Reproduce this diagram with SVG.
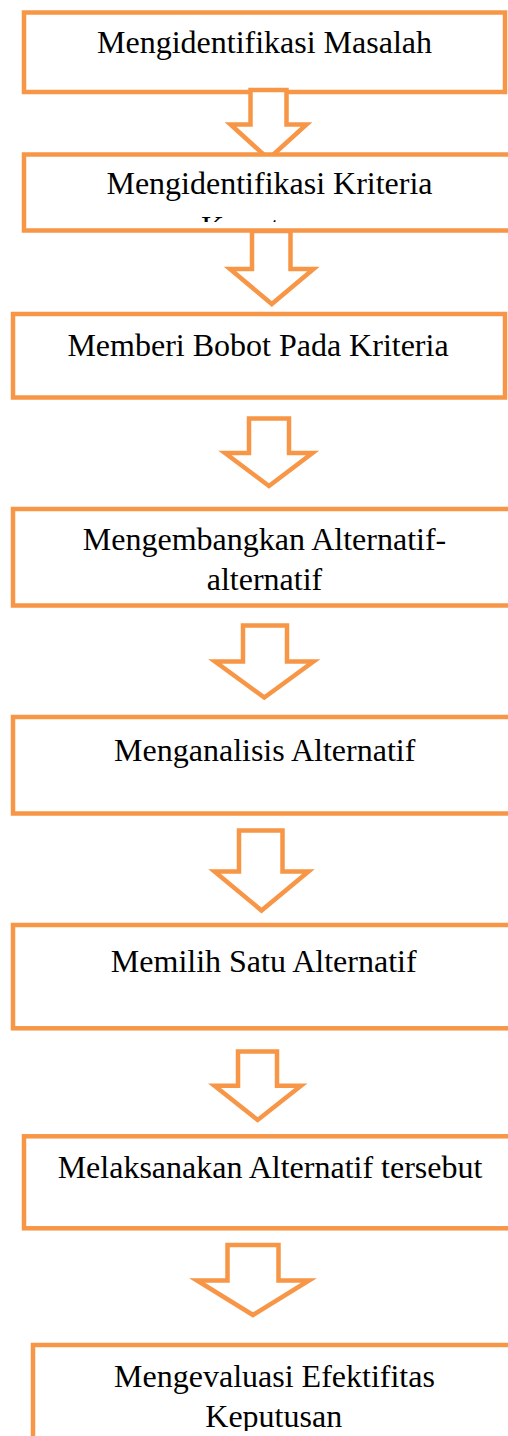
<svg xmlns="http://www.w3.org/2000/svg" width="508" height="1436" viewBox="0 0 508 1436">
<style>
.box{fill:#fff;stroke:#F79646;stroke-width:4.5;stroke-linejoin:miter}
.arr{fill:#fff;stroke:#F79646;stroke-width:4.5;stroke-linejoin:miter}
.t{font-family:'Liberation Serif','Times New Roman',serif;font-size:32px;fill:#000;text-anchor:middle}
</style>
<defs>
<clipPath id="c2"><rect x="0" y="150" width="508" height="72"/></clipPath>
<clipPath id="c8"><rect x="0" y="1340" width="508" height="91"/></clipPath>
</defs>
<rect width="508" height="1436" fill="#fff"/>
<g id="n1">
<rect class="box" x="24" y="12.5" width="481" height="79.5"/>
<text class="t" x="264.5" y="53">Mengidentifikasi Masalah</text>
</g>
<g id="connectors">
<polygon class="arr" points="250.5,90 286.5,90 286.5,124.5 306.5,124.5 268.5,159 230.5,124.5 250.5,124.5"/>
<polygon class="arr" points="252,231 290.5,231 290.5,269 313.5,269 271.8,304 230,269 252,269"/>
<polygon class="arr" points="249,418.5 289,418.5 289,453 312.5,453 269,486 225,453 249,453"/>
<polygon class="arr" points="243,625.5 287,625.5 287,661.5 313.5,661.5 264.3,697.5 215,661.5 243,661.5"/>
<polygon class="arr" points="239,830.5 282.5,830.5 282.5,871.5 308.5,871.5 261.5,910.5 214.5,871.5 239,871.5"/>
<polygon class="arr" points="238,1051.5 277,1051.5 277,1085.7 301,1085.7 257.7,1120 214.5,1085.7 238,1085.7"/>
<polygon class="arr" points="227.5,1245 278.5,1245 278.5,1280.5 309,1280.5 253,1315 197,1280.5 227.5,1280.5"/>
</g>
<g id="n2">
<rect class="box" x="24" y="154.5" width="492" height="76"/>
<g clip-path="url(#c2)">
<text class="t" x="269.5" y="194">Mengidentifikasi Kriteria</text>
<text class="t" x="269.5" y="238">Keputusan</text>
</g>
</g>
<g id="n3">
<rect class="box" x="13" y="314" width="492" height="83.5"/>
<text class="t" x="258" y="356">Memberi Bobot Pada Kriteria</text>
</g>
<g id="n4">
<rect class="box" x="13" y="509" width="503" height="96.5"/>
<text class="t" x="264.5" y="550">Mengembangkan Alternatif-</text>
<text class="t" x="264.5" y="590">alternatif</text>
</g>
<g id="n5">
<rect class="box" x="13" y="717" width="503" height="96.5"/>
<text class="t" x="264.7" y="761">Menganalisis Alternatif</text>
</g>
<g id="n6">
<rect class="box" x="13" y="925" width="503" height="103.3"/>
<text class="t" x="263.7" y="971.7">Memilih Satu Alternatif</text>
</g>
<g id="n7">
<rect class="box" x="24" y="1136.3" width="492" height="92"/>
<text class="t" x="270" y="1178.3">Melaksanakan Alternatif tersebut</text>
</g>
<g id="n8">
<rect class="box" x="33" y="1345" width="483" height="110"/>
<g clip-path="url(#c8)">
<text class="t" x="274.5" y="1386.7">Mengevaluasi Efektifitas</text>
<text class="t" x="273.7" y="1426.7">Keputusan</text>
</g>
</g>
</svg>
